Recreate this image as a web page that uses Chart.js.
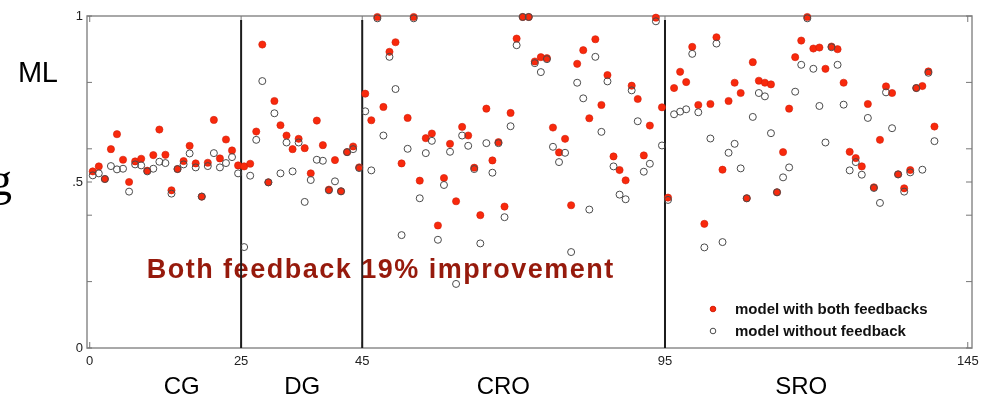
<!DOCTYPE html>
<html>
<head>
<meta charset="utf-8">
<script src="https://cdn.jsdelivr.net/npm/chart.js@4.4.0/dist/chart.umd.min.js"></script>
<style>
  html, body { margin: 0; padding: 0; background: #fff; }
  #wrap { width: 1001px; height: 400px; }
</style>
</head>
<body>
<div id="wrap"><canvas id="chart" width="1001" height="400"></canvas></div>
<script>
// ML score per trial (trials 1..140), both model variants
const withBoth = [
  0.532, 0.547, 0.509, 0.599, 0.644, 0.567, 0.500, 0.562, 0.570, 0.534,
  0.581, 0.658, 0.582, 0.475, 0.539, 0.563, 0.609, 0.556, 0.456, 0.558,
  0.687, 0.571, 0.628, 0.595, 0.550, 0.547, 0.555, 0.652, 0.914, 0.499,
  0.744, 0.671, 0.640, 0.599, 0.630, 0.602, 0.526, 0.685, 0.611, 0.477,
  0.566, 0.472, 0.590, 0.607, 0.544, 0.766, 0.686, 0.997, 0.726, 0.892,
  0.921, 0.556, 0.693, 0.997, 0.504, 0.632, 0.646, 0.369, 0.512, 0.615,
  0.442, 0.666, 0.640, 0.543, 0.400, 0.721, 0.565, 0.620, 0.426, 0.708,
  0.932, 0.997, 0.997, 0.863, 0.876, 0.873, 0.664, 0.589, 0.630, 0.430,
  0.856, 0.897, 0.692, 0.930, 0.732, 0.822, 0.577, 0.536, 0.505, 0.790,
  0.750, 0.580, 0.670, 0.995, 0.725, 0.453, 0.783, 0.832, 0.801, 0.907,
  0.732, 0.374, 0.735, 0.936, 0.537, 0.744, 0.799, 0.768, 0.451, 0.861,
  0.805, 0.799, 0.794, 0.469, 0.590, 0.721, 0.876, 0.926, 0.997, 0.902,
  0.905, 0.841, 0.908, 0.900, 0.799, 0.591, 0.572, 0.547, 0.735, 0.484,
  0.627, 0.788, 0.768, 0.523, 0.481, 0.536, 0.783, 0.789, 0.833, 0.667
];
const withoutFeedback = [
  0.520, 0.526, 0.509, 0.548, 0.538, 0.540, 0.471, 0.553, 0.550, 0.532,
  0.540, 0.561, 0.557, 0.465, 0.539, 0.553, 0.586, 0.544, 0.456, 0.548,
  0.587, 0.544, 0.557, 0.575, 0.526, 0.304, 0.519, 0.627, 0.804, 0.499,
  0.707, 0.526, 0.619, 0.532, 0.619, 0.440, 0.506, 0.567, 0.564, 0.475,
  0.502, 0.472, 0.590, 0.599, 0.542, 0.713, 0.535, 0.993, 0.640, 0.877,
  0.780, 0.340, 0.600, 0.993, 0.451, 0.587, 0.624, 0.326, 0.491, 0.591,
  0.193, 0.640, 0.609, 0.539, 0.315, 0.617, 0.528, 0.617, 0.394, 0.668,
  0.912, 0.997, 0.997, 0.858, 0.831, 0.870, 0.606, 0.560, 0.588, 0.289,
  0.799, 0.752, 0.417, 0.877, 0.651, 0.803, 0.547, 0.462, 0.448, 0.776,
  0.683, 0.531, 0.555, 0.984, 0.610, 0.446, 0.704, 0.712, 0.719, 0.886,
  0.710, 0.303, 0.631, 0.917, 0.319, 0.588, 0.615, 0.541, 0.451, 0.696,
  0.768, 0.758, 0.647, 0.469, 0.514, 0.544, 0.772, 0.853, 0.993, 0.841,
  0.729, 0.619, 0.906, 0.853, 0.733, 0.535, 0.560, 0.522, 0.693, 0.482,
  0.437, 0.770, 0.662, 0.523, 0.471, 0.529, 0.783, 0.537, 0.829, 0.623
];

// trial blocks: names, block boundaries, and where each name sits on the trial axis
const groupNames = ['CG', 'DG', 'CRO', 'SRO'];
const groupBounds = [25, 45, 95];
const groupLabelAt = [15.2, 35.1, 68.3, 117.5];

const xTicks = [0, 25, 45, 95, 145];
const yTicks = [0, 0.2, 0.4, 0.5, 0.6, 0.8, 1];
const yTickText = { 0: '0', 0.5: '.5', 1: '1' };

const note = 'Both feedback 19% improvement';

const SANS = '"Liberation Sans", Arial, Helvetica, sans-serif';

// each trial sits in the middle of its unit cell
const toPoints = vals => vals.map((v, i) => ({ x: i + 0.5, y: v }));

const decor = {
  id: 'decor',
  beforeDatasetsDraw(chart) {
    const { ctx, chartArea: a, scales: { x, y } } = chart;
    ctx.save();

    // headline, sits under the block dividers
    ctx.font = 'bold 27px ' + SANS;
    ctx.letterSpacing = '1.5px';
    ctx.fillStyle = '#961a0c';
    ctx.textAlign = 'left';
    ctx.textBaseline = 'alphabetic';
    ctx.fillText(note, x.getPixelForValue(9.4), y.getPixelForValue(0.212));
    ctx.letterSpacing = '0px';

    // frame
    ctx.strokeStyle = '#8c8c8c';
    ctx.lineWidth = 1.5;
    ctx.strokeRect(a.left, a.top, a.width, a.height);

    // inward tick marks
    ctx.lineWidth = 1;
    ctx.strokeStyle = '#777';
    ctx.beginPath();
    yTicks.forEach(v => {
      const py = y.getPixelForValue(v);
      ctx.moveTo(a.left, py); ctx.lineTo(a.left + 5, py);
      ctx.moveTo(a.right, py); ctx.lineTo(a.right - 6, py);
    });
    xTicks.forEach(v => {
      const px = x.getPixelForValue(v);
      ctx.moveTo(px, a.bottom); ctx.lineTo(px, a.bottom - 6);
      ctx.moveTo(px, a.top); ctx.lineTo(px, a.top + 6);
    });
    ctx.stroke();

    // block dividers
    ctx.strokeStyle = '#1c1c1c';
    ctx.lineWidth = 2;
    ctx.beginPath();
    groupBounds.forEach(v => {
      const px = x.getPixelForValue(v);
      ctx.moveTo(px, a.top + 4);
      ctx.lineTo(px, a.bottom);
    });
    ctx.stroke();
    ctx.restore();
  },
  afterDraw(chart) {
    const { ctx, chartArea: a, scales: { x } } = chart;
    ctx.save();

    // legend in the lower right corner of the plot
    ctx.font = 'bold 15px ' + SANS;
    ctx.textAlign = 'left';
    ctx.textBaseline = 'middle';
    chart.data.datasets.forEach((ds, i) => {
      const cy = a.bottom - 39 + i * 22;
      const cx = a.right - 259;
      ctx.beginPath();
      ctx.arc(cx, cy, 2.8, 0, Math.PI * 2);
      ctx.fillStyle = ds.backgroundColor;
      ctx.fill();
      ctx.lineWidth = 1;
      ctx.strokeStyle = ds.borderColor;
      ctx.stroke();
      ctx.fillStyle = '#111';
      ctx.fillText(ds.label, a.right - 237, cy + 1);
    });

    // block names under the axis
    ctx.font = '24px ' + SANS;
    ctx.fillStyle = '#000';
    ctx.textAlign = 'center';
    ctx.textBaseline = 'alphabetic';
    groupNames.forEach((name, i) => {
      ctx.fillText(name, x.getPixelForValue(groupLabelAt[i]), 394);
    });

    // side captions
    ctx.textAlign = 'left';
    ctx.font = '29px ' + SANS;
    ctx.letterSpacing = '-0.5px';
    ctx.fillText('ML', 18, 82);
    ctx.letterSpacing = '0px';
    ctx.textAlign = 'right';
    ctx.font = '46px "Liberation Serif", "Times New Roman", serif';
    ctx.fillText('g', 12, 195);
    ctx.restore();
  }
};

new Chart(document.getElementById('chart'), {
  type: 'scatter',
  data: {
    datasets: [
      {
        label: 'model with both feedbacks',
        data: toPoints(withBoth),
        pointRadius: 3.6,
        backgroundColor: '#f8290c',
        borderColor: '#d21d08',
        borderWidth: 0.6,
        order: 2,
        clip: false
      },
      {
        label: 'model without feedback',
        data: toPoints(withoutFeedback),
        pointRadius: 3.5,
        backgroundColor: 'rgba(255,255,255,0)',
        borderColor: '#4a4a4a',
        borderWidth: 1,
        order: 1,
        clip: false
      }
    ]
  },
  options: {
    responsive: false,
    animation: false,
    events: [],
    layout: { padding: { left: 0, right: 29, top: 16, bottom: 0 } },
    plugins: {
      legend: { display: false },
      tooltip: { enabled: false }
    },
    scales: {
      x: {
        type: 'linear',
        min: -0.45,
        max: 145.7,
        afterBuildTicks: s => { s.ticks = xTicks.map(v => ({ value: v })); },
        afterFit: s => { s.height = 52; },
        grid: { display: false, drawTicks: false },
        border: { display: false },
        ticks: {
          autoSkip: false,
          maxRotation: 0,
          padding: 6,
          color: '#222',
          font: { family: SANS, size: 13 },
          callback: v => String(v)
        }
      },
      y: {
        min: 0,
        max: 1,
        afterBuildTicks: s => { s.ticks = yTicks.map(v => ({ value: v })); },
        afterFit: s => { s.width = 87; },
        grid: { display: false, drawTicks: false },
        border: { display: false },
        ticks: {
          autoSkip: false,
          padding: 4,
          color: '#222',
          font: { family: SANS, size: 13 },
          callback: v => yTickText[v] ?? ''
        }
      }
    }
  },
  plugins: [decor]
});
</script>
</body>
</html>
